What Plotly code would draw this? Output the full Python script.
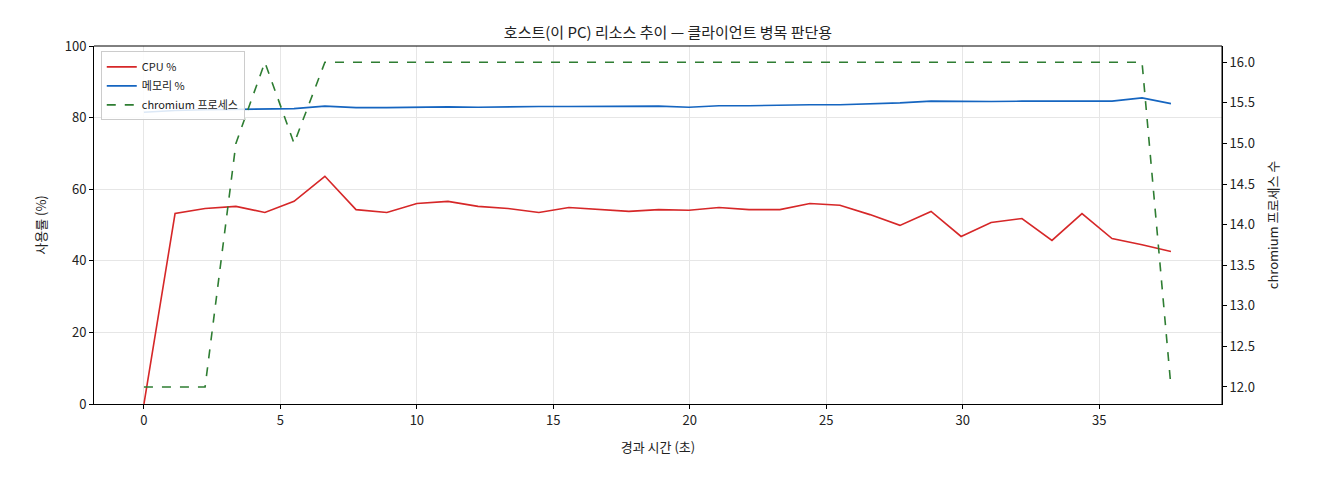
import plotly.graph_objects as go

# elapsed seconds (approx. 1.1 s sampling)
t = [0.0, 1.14, 2.24, 3.37, 4.43, 5.50, 6.63, 7.77, 8.90, 10.00, 11.14, 12.24, 13.34, 14.47, 15.57,
     16.67, 17.77, 18.86, 19.97, 21.07, 22.17, 23.30, 24.40, 25.50, 26.60, 27.70, 28.84, 29.94,
     31.04, 32.17, 33.27, 34.37, 35.47, 36.57, 37.63]
cpu = [0.0, 53.2, 54.6, 55.2, 53.5, 56.6, 63.6, 54.3, 53.5, 56.0, 56.6, 55.2, 54.6, 53.5, 54.9,
       54.3, 53.8, 54.3, 54.1, 54.9, 54.3, 54.3, 56.0, 55.5, 52.9, 49.9, 53.8, 46.8, 50.7, 51.8,
       45.7, 53.2, 46.2, 44.5, 42.6]
mem = [81.5, 82.0, 82.2, 82.3, 82.3, 82.5, 83.2, 82.8, 82.8, 83.0, 83.0, 82.9, 83.1, 83.1, 83.1,
       83.1, 83.2, 83.2, 82.9, 83.3, 83.3, 83.5, 83.6, 83.6, 83.8, 84.1, 84.6, 84.5, 84.5, 84.6,
       84.6, 84.6, 84.6, 85.5, 83.9]
procs = [12, 12, 12, 15, 16, 15, 16, 16, 16, 16, 16, 16, 16, 16, 16, 16, 16, 16, 16, 16, 16, 16,
         16, 16, 16, 16, 16, 16, 16, 16, 16, 16, 16, 16, 12]

fig = go.Figure()
fig.add_trace(go.Scatter(x=t, y=cpu, mode="lines", name="CPU %", line=dict(color="#d62728", width=1.6)))
fig.add_trace(go.Scatter(x=t, y=mem, mode="lines", name="메모리 %", line=dict(color="#1565c0", width=1.6)))
fig.add_trace(go.Scatter(x=t, y=procs, mode="lines", name="chromium 프로세스", yaxis="y2",
                         line=dict(color="#2e7d32", width=1.6, dash="dash")))

axis_common = dict(showline=True, linecolor="black", linewidth=1, mirror=False, ticks="outside",
                   ticklen=4, tickcolor="black", tickfont=dict(size=13, color="#222"))
fig.update_layout(
    width=1320, height=480,
    font=dict(family="Noto Sans CJK KR, sans-serif", color="#222"),
    paper_bgcolor="white", plot_bgcolor="white",
    margin=dict(l=86, r=106, t=38, b=84),
    title=dict(text="호스트(이 PC) 리소스 추이 — 클라이언트 병목 판단용", x=0.5, xanchor="center",
               y=0.96, font=dict(size=15)),
    xaxis=dict(range=[-1.83, 39.5], tickvals=[0, 5, 10, 15, 20, 25, 30, 35], showgrid=True,
               gridcolor="#e6e6e6", title=dict(text="경과 시간 (초)", font=dict(size=13)),
               zeroline=False, **axis_common),
    yaxis=dict(range=[0, 100], tickvals=[0, 20, 40, 60, 80, 100], showgrid=True, gridcolor="#e6e6e6",
               title=dict(text="사용률 (%)", font=dict(size=13)), zeroline=False, **axis_common),
    yaxis2=dict(overlaying="y", side="right", range=[11.79, 16.2],
                tickvals=[12, 12.5, 13, 13.5, 14, 14.5, 15, 15.5, 16],
                ticktext=["12.0", "12.5", "13.0", "13.5", "14.0", "14.5", "15.0", "15.5", "16.0"],
                showgrid=False, zeroline=False,
                title=dict(text="chromium 프로세스 수", font=dict(size=13)), **axis_common),
    legend=dict(x=0.006, y=0.985, xanchor="left", yanchor="top", bgcolor="rgba(255,255,255,0.85)",
                bordercolor="#ccc", borderwidth=1, font=dict(size=11)),
    shapes=[dict(type="line", xref="paper", yref="paper", x0=1, x1=1, y0=0, y1=1,
                 line=dict(color="black", width=1)),
            dict(type="line", xref="paper", yref="paper", x0=0, x1=1, y0=1, y1=1,
                 line=dict(color="black", width=1))],
)
fig.write_html("out.html")
